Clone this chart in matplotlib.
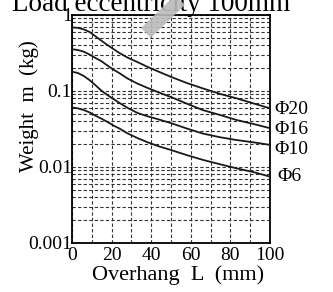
import numpy as np
import matplotlib.pyplot as plt
from matplotlib.ticker import FixedLocator, MultipleLocator, LogLocator, NullFormatter

plt.rcParams['font.family'] = ['Liberation Serif', 'DejaVu Serif']

# overhang L (mm) and allowable weight m (kg) for each rod size
L = [0, 3, 6, 9, 12, 15, 18, 21, 24, 28, 33, 38, 44, 50, 58, 66, 75, 83, 92, 100]
phi20 = [0.685, 0.675, 0.645, 0.595, 0.52, 0.455, 0.40, 0.355, 0.315, 0.275,
         0.24, 0.208, 0.178, 0.153, 0.127, 0.108, 0.091, 0.080, 0.068, 0.059]
phi16 = [0.354, 0.345, 0.328, 0.300, 0.27, 0.245, 0.215, 0.19, 0.171, 0.146,
         0.125, 0.110, 0.095, 0.083, 0.068, 0.056, 0.048, 0.0415, 0.0365, 0.0323]
phi10 = [0.179, 0.172, 0.157, 0.138, 0.118, 0.100, 0.088, 0.078, 0.0695, 0.060,
         0.0514, 0.0465, 0.042, 0.0377, 0.032, 0.0275, 0.0245, 0.0226, 0.021, 0.0195]
phi6 = [0.0607, 0.059, 0.056, 0.052, 0.047, 0.043, 0.039, 0.035, 0.032, 0.0277,
        0.0240, 0.0212, 0.0186, 0.0167, 0.0143, 0.0124, 0.0108, 0.0096, 0.0085, 0.00745]

names = ['Φ20', 'Φ16', 'Φ10', 'Φ6']
yticks = [0.001, 0.01, 0.1, 1]
ytick_labels = ['0.001', '0.01', '0.1', '1']
xticks = [0, 20, 40, 60, 80, 100]

fig = plt.figure(figsize=(3.33, 2.92), dpi=100)
ax = fig.add_axes([0.216, 0.168, 0.595, 0.781])

label_dy = [-1, -1, -3, 0]
for ys, name, dy in zip([phi20, phi16, phi10, phi6], names, label_dy):
    ax.plot(L, ys, color='#1a1a1a', lw=1.3, zorder=3)
    ax.annotate(name, xy=(100, ys[-1]), xytext=(3 if name != 'Φ6' else 5, dy),
                textcoords='offset points', va='center', ha='left',
                fontsize=14, annotation_clip=False)

ax.set_yscale('log')
ax.set_xlim(0, 100)
ax.set_ylim(0.001, 1)
ax.yaxis.set_major_locator(FixedLocator(yticks))
ax.set_yticklabels(ytick_labels)
ax.yaxis.set_minor_locator(LogLocator(base=10, subs=np.arange(2, 10)))
ax.yaxis.set_minor_formatter(NullFormatter())
ax.set_xticks(xticks)
ax.xaxis.set_minor_locator(MultipleLocator(10))

ax.tick_params(which='both', length=0, labelsize=14)
ax.tick_params(axis='y', pad=0)
ax.tick_params(axis='x', pad=3)
ax.grid(which='both', ls=(0, (3, 2)), lw=0.8, color='#333333')
for s in ax.spines.values():
    s.set_linewidth(1.3)

ax.set_xlabel('Overhang  L  (mm)', fontsize=16)
ax.xaxis.set_label_coords(0.535, -0.1)
ax.set_ylabel('Weight  m  (kg)', fontsize=15)
ax.yaxis.set_label_coords(-0.165, 0.6)

fig.text(0.455, 1 - 11 / 292, 'Load eccentricity 100mm', ha='center', va='baseline', fontsize=19.5)

# grey stripe across the top of the chart
fig.add_artist(plt.Line2D([146 / 333, 180 / 333], [1 - 33 / 292, 1.0], transform=fig.transFigure,
                          color='#bbbbbb', lw=10, alpha=0.9, solid_capstyle='butt', zorder=10))

fig.savefig('out.png', dpi=100)
